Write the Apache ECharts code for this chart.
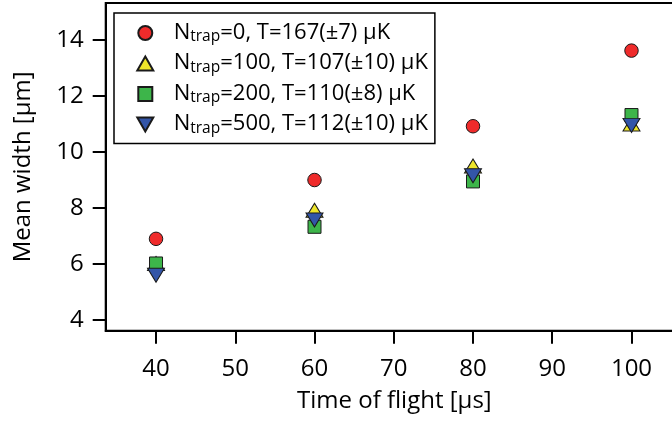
<!DOCTYPE html>
<html>
<head>
<meta charset="utf-8">
<script src="https://cdn.jsdelivr.net/npm/echarts@6/dist/echarts.min.js"></script>
<style>
html,body{margin:0;padding:0;background:#fff;}
#chart{width:672px;height:421px;}
</style>
</head>
<body>
<div id="chart"></div>
<script>
// ---- data ----
const times = [40, 60, 80, 100];
const width0 = [6.90, 9.00, 10.92, 13.62];
const width100 = [6.02, 7.92, 9.50, 11.00];
const width200 = [6.02, 7.33, 8.95, 11.32];
const width500 = [5.60, 7.57, 9.15, 10.95];
const xTicks = [40, 50, 60, 70, 80, 90, 100];
const yTicks = [4, 6, 8, 10, 12, 14];
const seriesNames = ['n0', 'n100', 'n200', 'n500'];
const legendParts = [
  ['N', 'trap', '=0, T=167(±7) μK'],
  ['N', 'trap', '=100, T=107(±10) μK'],
  ['N', 'trap', '=200, T=110(±8) μK'],
  ['N', 'trap', '=500, T=112(±10) μK']
];

const font = '"Open Sans", "Noto Sans", sans-serif';
const pair = (ys) => times.map((t, i) => [t, ys[i]]);
const border = { borderColor: '#1a1a1a', borderWidth: 1 };

const chart = echarts.init(document.getElementById('chart'), null, { renderer: 'canvas' });
chart.setOption({
  animation: false,
  backgroundColor: '#fff',
  grid: {
    left: 105.7, top: 3, width: 577.3, bottom: 90.3,
    outerBoundsMode: 'none',
    show: true, borderColor: '#000', borderWidth: 2, containLabel: false
  },
  legend: {
    orient: 'vertical',
    left: 114, top: 13,
    padding: [8.5, 7, 7, 22.3],
    itemWidth: 16, itemHeight: 14,
    itemGap: 7,
    borderColor: '#000', borderWidth: 1.5,
    backgroundColor: '#fff',
    selectedMode: false,
    data: [
      { name: seriesNames[0] },
      { name: seriesNames[1] },
      { name: seriesNames[2], icon: 'path://M0,0L10,0L10,10L0,10Z' },
      { name: seriesNames[3], icon: 'path://M0,0L16,0L8,14Z' }
    ],
    formatter: function (name) {
      const p = legendParts[seriesNames.indexOf(name)];
      return '{f|' + p[0] + '}{s|' + p[1] + '}{m|' + p[2] + '}';
    },
    textStyle: {
      rich: {
        f: { fontFamily: font, fontSize: 22, lineHeight: 24, color: '#000', verticalAlign: 'bottom', padding: [0, 0, 1.5, 15.4] },
        m: { fontFamily: font, fontSize: 22, lineHeight: 24, color: '#000', verticalAlign: 'bottom', padding: [0, 0, 1.5, 0] },
        s: { fontFamily: font, fontSize: 15.5, lineHeight: 16, color: '#000', verticalAlign: 'bottom' }
      }
    }
  },
  xAxis: {
    type: 'value', min: 33.65, max: 106.5,
    name: 'Time of flight [µs]', nameLocation: 'middle', nameGap: 58,
    nameTextStyle: { fontFamily: font, fontSize: 24, color: '#000' },
    axisLine: { show: true, lineStyle: { color: '#000', width: 2 } },
    axisTick: { show: true, inside: false, length: 13, lineStyle: { color: '#000', width: 2 }, customValues: xTicks },
    axisLabel: { margin: 26, fontFamily: font, fontSize: 24, color: '#000', customValues: xTicks },
    splitLine: { show: false }
  },
  yAxis: {
    type: 'value', min: 3.62, max: 15.32,
    name: 'Mean width [µm]', nameLocation: 'middle', nameGap: 71,
    nameTextStyle: { fontFamily: font, fontSize: 24, color: '#000' },
    axisLine: { show: true, lineStyle: { color: '#000', width: 2 } },
    axisTick: { show: true, inside: false, length: 13, lineStyle: { color: '#000', width: 2 }, customValues: yTicks },
    axisLabel: { margin: 22, fontFamily: font, fontSize: 24, color: '#000', customValues: yTicks },
    splitLine: { show: false }
  },
  series: [
    { name: seriesNames[0], type: 'scatter', data: pair(width0), symbol: 'circle', symbolSize: 13.5,
      itemStyle: Object.assign({ color: '#ef2b2b', opacity: 1 }, border), z: 2 },
    { name: seriesNames[1], type: 'scatter', data: pair(width100), symbol: 'triangle', symbolSize: [17, 14],
      itemStyle: Object.assign({ color: '#eee52a', opacity: 1 }, border), z: 3 },
    { name: seriesNames[2], type: 'scatter', data: pair(width200), symbol: 'rect', symbolSize: 13,
      itemStyle: Object.assign({ color: '#3db54a', opacity: 1 }, border), z: 4 },
    { name: seriesNames[3], type: 'scatter', data: pair(width500), symbol: 'triangle', symbolRotate: 180, symbolSize: [17, 14],
      itemStyle: Object.assign({ color: '#3355a8', opacity: 1 }, border), z: 5 }
  ]
});
</script>
</body>
</html>
